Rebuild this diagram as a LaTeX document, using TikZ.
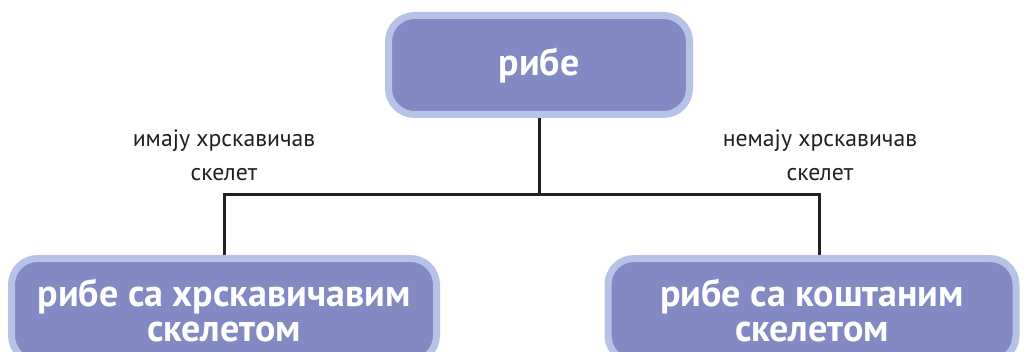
\documentclass[tikz,border=0pt]{standalone}
\usepackage{fontspec}
\setmainfont{PT Sans}
\usetikzlibrary{positioning,backgrounds}
\definecolor{ink}{HTML}{231F20}
\definecolor{periwinkle}{HTML}{8289C3}
\definecolor{rim}{HTML}{B7C3E6}
\tikzset{
  every node/.style={inner sep=0pt,text=ink},
  card/.style={rounded corners=26pt,draw=rim,line width=7pt,fill=periwinkle,text=white,align=center,font=\bfseries\fontsize{38}{35}\selectfont},
  note/.style={align=center,font=\fontsize{23.7}{34}\selectfont},
  link/.style={draw=ink,line width=3pt},
}
\begin{document}
\begin{tikzpicture}[x=1pt,y=1pt]
\path[use as bounding box] (0,0) rectangle (1027,352);
\clip (0,0) rectangle (1027,352);
% Top of the tree and its two branches.
\node[card,minimum width=301pt,minimum height=99pt] (fish) at (539,287) {рибе};
\node[card,minimum width=425pt,minimum height=103pt] (cart) at (224,42) {рибе са хрскавичавим\\скелетом};
\node[card,minimum width=408pt,minimum height=103pt] (bony) at (812,42) {рибе са коштаним\\скелетом};
\coordinate (split) at (fish.south |- 0,157);
% Branch captions.
\node[note] (have) at (224,197) {имају хрскавичав\\скелет};
\node[note] (havenot) at (820,197) {немају хрскавичав\\скелет};
\begin{scope}[on background layer]
\fill[white] (0,0) rectangle (1027,352);
\draw[link] (fish.south) -- (split);
\draw[link] (split) -| (cart.north);
\draw[link] (split) -| ([xshift=7pt]bony.north);
\end{scope}
\end{tikzpicture}
\end{document}
